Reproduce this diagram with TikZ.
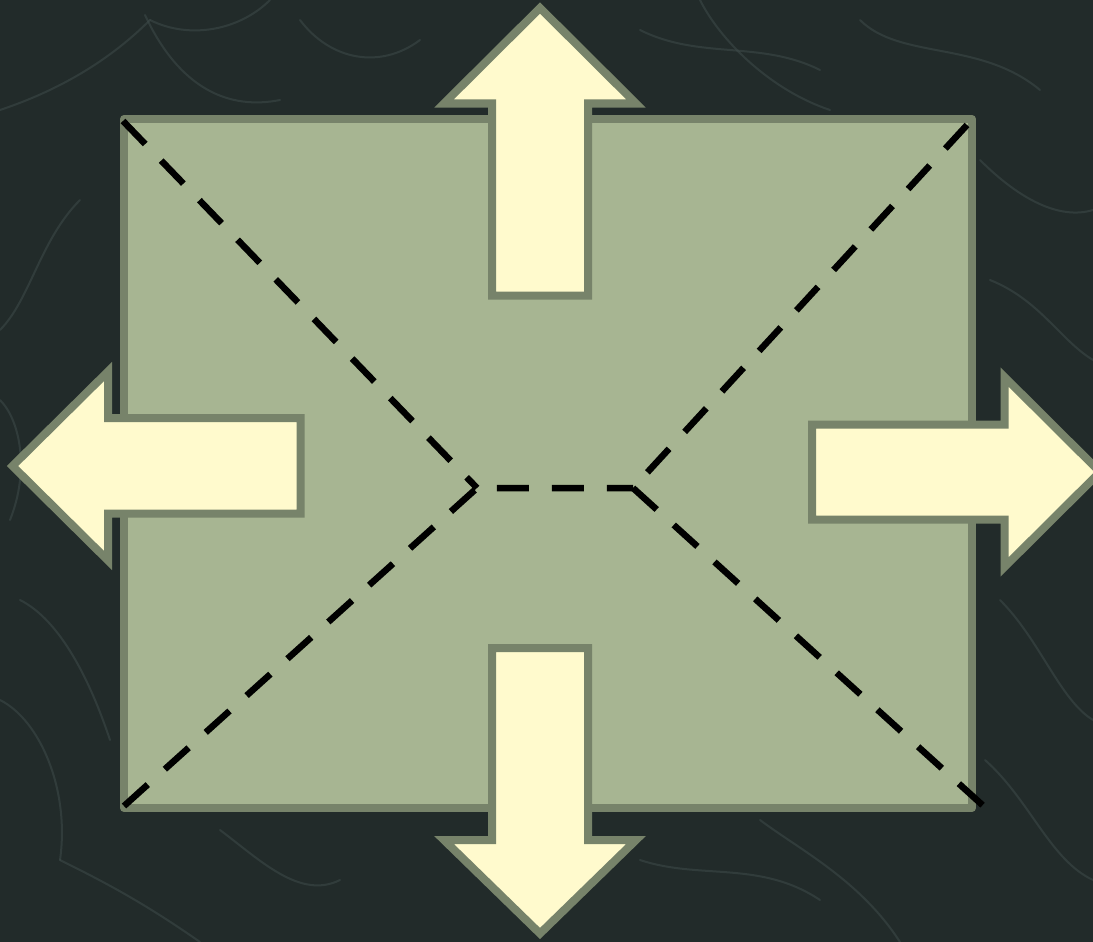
\documentclass[tikz,border=0pt]{standalone}
\usetikzlibrary{calc}
\definecolor{bgdark}{HTML}{222B2A}
\definecolor{vein}{HTML}{3E4B4A}
\definecolor{rectfill}{HTML}{A7B592}
\definecolor{edgegreen}{HTML}{77836A}
\definecolor{arrowfill}{HTML}{FFFACD}
\tikzset{
  panel/.style={fill=rectfill, draw=edgegreen, line width=8pt, line join=round},
  bigarrow/.style={fill=arrowfill, draw=edgegreen, line width=8pt, line join=miter, miter limit=10},
  guide/.style={draw=black, line width=6.5pt, dash pattern=on 32pt off 23pt},
  veinline/.style={draw=vein, line width=2pt, opacity=0.55, line cap=round}
}
\begin{document}
\begin{tikzpicture}[x=1pt,y=-1pt]
\useasboundingbox (0,0) rectangle (1093,942);
\clip (0,0) rectangle (1093,942);
% background
\fill[bgdark] (0,0) rectangle (1093,942);
% faint marble veins
\draw[veinline] (0,110) .. controls (60,90) and (110,60) .. (150,20);
\draw[veinline] (150,20) .. controls (190,40) and (240,30) .. (270,0);
\draw[veinline] (80,200) .. controls (40,240) and (30,300) .. (0,330);
\draw[veinline] (145,15) .. controls (180,90) and (230,110) .. (280,100);
\draw[veinline] (300,20) .. controls (330,60) and (380,70) .. (420,40);
\draw[veinline] (640,30) .. controls (700,60) and (760,40) .. (820,70);
\draw[veinline] (700,0) .. controls (720,40) and (770,90) .. (830,110);
\draw[veinline] (860,20) .. controls (900,60) and (980,40) .. (1040,90);
\draw[veinline] (980,160) .. controls (1020,200) and (1060,220) .. (1093,210);
\draw[veinline] (990,280) .. controls (1040,300) and (1060,340) .. (1093,360);
\draw[veinline] (1000,600) .. controls (1040,640) and (1060,700) .. (1093,720);
\draw[veinline] (985,760) .. controls (1030,800) and (1050,860) .. (1093,880);
\draw[veinline] (20,600) .. controls (60,620) and (90,680) .. (110,740);
\draw[veinline] (0,700) .. controls (40,720) and (70,790) .. (60,860);
\draw[veinline] (60,860) .. controls (100,880) and (140,900) .. (200,942);
\draw[veinline] (220,830) .. controls (260,860) and (300,900) .. (340,880);
\draw[veinline] (640,860) .. controls (700,880) and (760,860) .. (820,900);
\draw[veinline] (760,820) .. controls (800,850) and (860,880) .. (900,942);
\draw[veinline] (0,400) .. controls (20,420) and (30,470) .. (10,520);
% panel
\draw[panel] (124,119) rectangle (972,808);
% guide lines
\coordinate (tl) at (123,121);
\coordinate (tr) at (967,125);
\coordinate (bl) at (124,806);
\coordinate (br) at (989,811);
\coordinate (cl) at (477,488);
\coordinate (cr) at (633,488);
\draw[guide] (tl) -- (cl);
\draw[guide] (bl) -- (cl) -- (cr);
\draw[guide] (tr) -- (cr);
\draw[guide] (cr) -- (br);
% arrows
\draw[bigarrow] (540,8) -- (636,103.5) -- (588,103.5) -- (588,295.5) -- (492,295.5) -- (492,103.5) -- (444,103.5) -- cycle;
\draw[bigarrow] (12.5,466) -- (108,371.5) -- (108,418) -- (300.5,418) -- (300.5,513.5) -- (108,513.5) -- (108,560.5) -- cycle;
\draw[bigarrow] (1100,472) -- (1004.5,377) -- (1004.5,424.5) -- (812,424.5) -- (812,519.5) -- (1004.5,519.5) -- (1004.5,567) -- cycle;
\draw[bigarrow] (492,648) -- (588,648) -- (588,840) -- (636,840) -- (540,933.5) -- (444,840) -- (492,840) -- cycle;
\end{tikzpicture}
\end{document}
